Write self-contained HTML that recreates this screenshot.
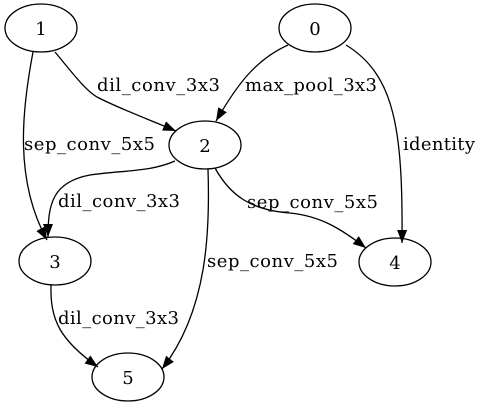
<!DOCTYPE html>
<html><head><style>
html,body{margin:0;padding:0;background:#fff;}
svg{display:block;}
text{font-family:"DejaVu Serif","Liberation Serif",serif;font-size:18px;fill:#000;}
</style></head><body>
<svg width="483" height="407" viewBox="0 0 483 407" xmlns="http://www.w3.org/2000/svg">
<defs>
<marker id="a" markerWidth="13" markerHeight="10" refX="13" refY="5" orient="auto" markerUnits="userSpaceOnUse">
<path d="M0,0 L13,5 L0,10 Z" fill="#000"/>
</marker>
</defs>
<g fill="none" stroke="#000" stroke-width="1.3">
<ellipse cx="41" cy="28" rx="36" ry="24"/>
<ellipse cx="315" cy="28" rx="36" ry="24"/>
<ellipse cx="205" cy="145" rx="36" ry="24"/>
<ellipse cx="55" cy="261" rx="36" ry="24"/>
<ellipse cx="395" cy="262" rx="36" ry="24"/>
<ellipse cx="128" cy="377" rx="36" ry="24"/>
<path marker-end="url(#a)" d="M33,52 C22,110 14,180 47,240"/>
<path marker-end="url(#a)" d="M55,52 C70,70 85,90 97,97 C118,108 150,120 176,131"/>
<path marker-end="url(#a)" d="M288,45 C255,60 237,85 216,121"/>
<path marker-end="url(#a)" d="M346,45 C395,75 403,130 402,243"/>
<path marker-end="url(#a)" d="M175,161 C150,172 125,170 90,175 C52,182 48,205 48,237"/>
<path marker-end="url(#a)" d="M215,168 C230,195 250,210 290,213 C320,216 340,228 366,248"/>
<path marker-end="url(#a)" d="M208,169 C210,230 208,310 162,369"/>
<path marker-end="url(#a)" d="M51,285 C50,320 60,340 98,367"/>
</g>
<g text-anchor="middle">
<text x="41" y="35">1</text>
<text x="315" y="35">0</text>
<text x="205" y="152">2</text>
<text x="55" y="268">3</text>
<text x="395" y="269">4</text>
<text x="128" y="384">5</text>
</g>
<text x="97" y="91" textLength="123">dil_conv_3x3</text>
<text x="245" y="91" textLength="132">max_pool_3x3</text>
<text x="24" y="150" textLength="131">sep_conv_5x5</text>
<text x="403" y="150" textLength="72">identity</text>
<text x="58" y="207" textLength="122">dil_conv_3x3</text>
<text x="247" y="208" textLength="131">sep_conv_5x5</text>
<text x="207" y="267" textLength="131">sep_conv_5x5</text>
<text x="58" y="324" textLength="121">dil_conv_3x3</text>
</svg>
</body></html>
